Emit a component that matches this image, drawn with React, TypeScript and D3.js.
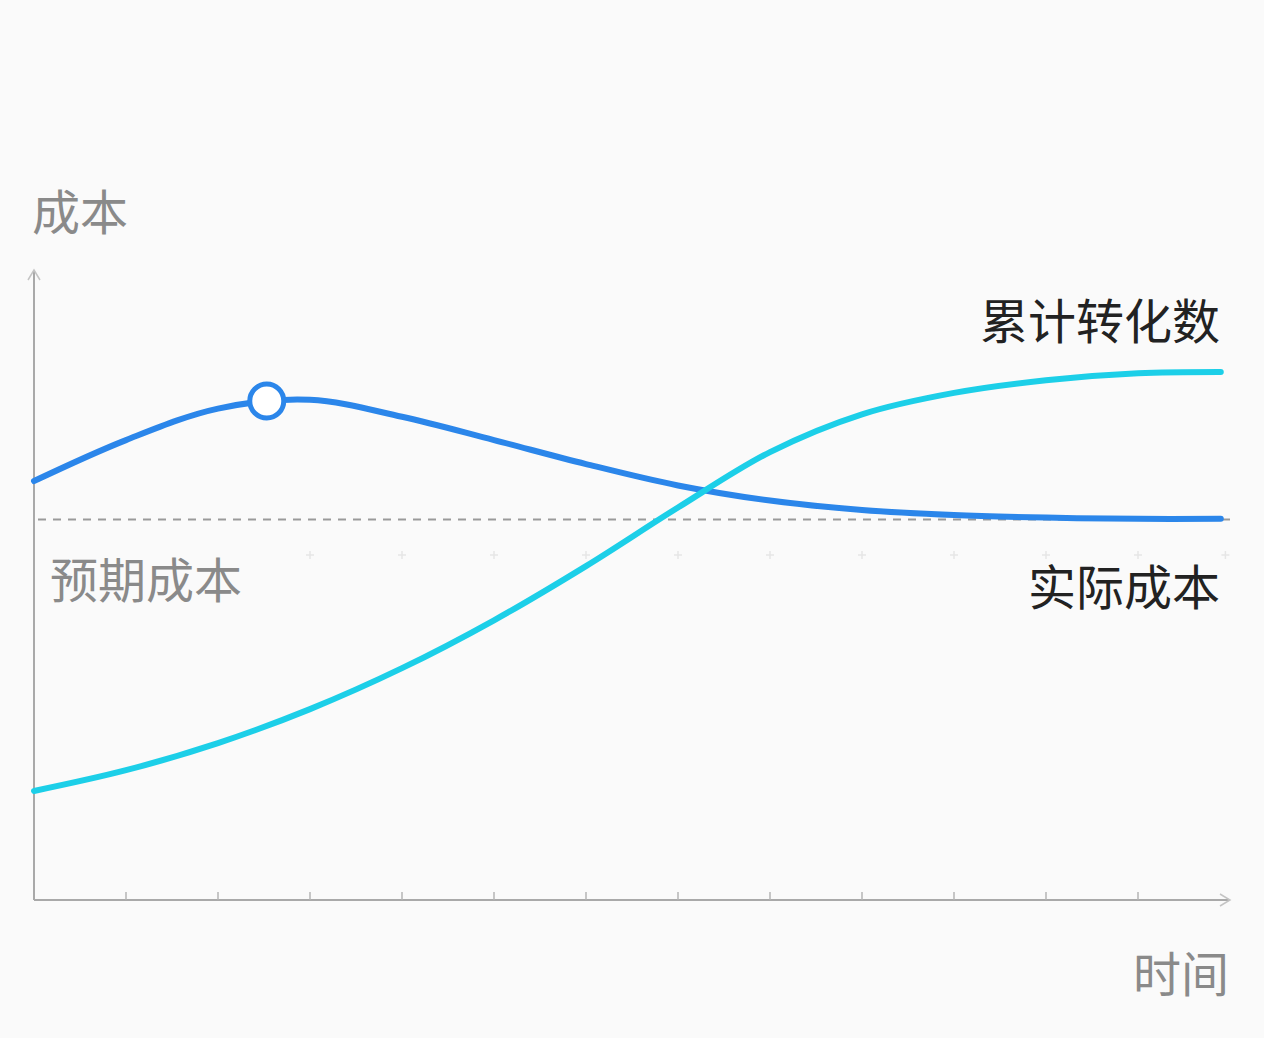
import React from "react";
import * as d3 from "d3";

const W = 1264;
const H = 1038;

// time index (x) — tick positions 1..12
const tickIdx = [1, 2, 3, 4, 5, 6, 7, 8, 9, 10, 11, 12];

// 实际成本 (actual cost)
const actualX = [0, 1, 2, 3, 4, 5, 6, 7, 8, 9, 10, 11, 12, 12.9];
const actualY = [66.5, 73.0, 78.0, 79.4, 76.7, 73.0, 69.2, 65.8, 63.4, 61.9, 61.1, 60.7, 60.5, 60.5];

// 累计转化数 (cumulative conversions)
const convX = [0, 1, 2, 3, 4, 5, 6, 7, 8, 9, 10, 11, 12, 12.9];
const convY = [17.3, 20.6, 24.9, 30.3, 36.8, 44.4, 53.0, 62.3, 71.1, 77.1, 80.5, 82.5, 83.6, 83.8];

// 预期成本 (expected cost)
const expectedCost = 60.4;

// highlighted point
const markerX = 2.53;
const markerY = 79.2;

const crossIdx = [3, 4, 5, 6, 7, 8, 9, 10, 11, 12, 12.95];

export default function App() {
  const x = d3.scaleLinear().domain([0, 13]).range([34, 1230]);
  const y = d3.scaleLinear().domain([0, 100]).range([900, 270]);

  const line = d3
    .line<[number, number]>()
    .x((d) => x(d[0]))
    .y((d) => y(d[1]))
    .curve(d3.curveCatmullRom.alpha(0.5));

  const actualPts = actualX.map((v, i) => [v, actualY[i]] as [number, number]);
  const convPts = convX.map((v, i) => [v, convY[i]] as [number, number]);

  const axisColor = "#a9a9a9";
  const font = "'Noto Sans CJK SC', 'Noto Sans', sans-serif";

  return (
    <svg
      width={W}
      height={H}
      style={{ position: "absolute", left: 0, top: 0, display: "block" }}
    >
      <rect x={0} y={0} width={W} height={H} fill="#fafafa" />

      {/* faint crosses */}
      {crossIdx.map((t) => (
        <g key={"c" + t} stroke="#e6e6e6" strokeWidth={1.5}>
          <line x1={x(t) - 4} x2={x(t) + 4} y1={555} y2={555} />
          <line x1={x(t)} x2={x(t)} y1={551} y2={559} />
        </g>
      ))}

      {/* axes */}
      <line x1={x(0)} x2={x(0)} y1={y(0)} y2={y(100)} stroke={axisColor} strokeWidth={2} />
      <line x1={x(0)} x2={x(13)} y1={y(0)} y2={y(0)} stroke={axisColor} strokeWidth={2} />
      <path
        d={`M${x(0) - 6},${y(100) + 10} L${x(0)},${y(100)} L${x(0) + 6},${y(100) + 10}`}
        fill="none"
        stroke="#c4c4c4"
        strokeWidth={1.5}
      />
      <path
        d={`M${x(13) - 10},${y(0) - 6} L${x(13)},${y(0)} L${x(13) - 10},${y(0) + 6}`}
        fill="none"
        stroke="#c4c4c4"
        strokeWidth={1.5}
      />
      {tickIdx.map((t) => (
        <line
          key={t}
          x1={x(t)}
          x2={x(t)}
          y1={y(0)}
          y2={y(0) - 8}
          stroke="#b5b5b5"
          strokeWidth={1.5}
        />
      ))}

      {/* expected cost dashed line */}
      <line
        x1={x(0) + 4}
        x2={x(13)}
        y1={y(expectedCost)}
        y2={y(expectedCost)}
        stroke="#9a9a9a"
        strokeWidth={2}
        strokeDasharray="8 7"
      />

      {/* lines */}
      <path
        d={line(actualPts) || ""}
        fill="none"
        stroke="#2b86ea"
        strokeWidth={6}
        strokeLinecap="round"
      />
      <path
        d={line(convPts) || ""}
        fill="none"
        stroke="#1ccfe8"
        strokeWidth={6}
        strokeLinecap="round"
      />

      <circle
        cx={x(markerX)}
        cy={y(markerY)}
        r={17}
        fill="#ffffff"
        stroke="#2b86ea"
        strokeWidth={5}
      />

      {/* labels */}
      <text x={32} y={230} fontSize={48} fill="#8a8a8a" fontFamily={font}>
        成本
      </text>
      <text x={1229} y={992} fontSize={48} fill="#8a8a8a" fontFamily={font} textAnchor="end">
        时间
      </text>
      <text x={50} y={598} fontSize={48} fill="#8a8a8a" fontFamily={font}>
        预期成本
      </text>
      <text x={1220} y={339} fontSize={48} fill="#222222" fontFamily={font} textAnchor="end">
        累计转化数
      </text>
      <text x={1220} y={605} fontSize={48} fill="#222222" fontFamily={font} textAnchor="end">
        实际成本
      </text>
    </svg>
  );
}
